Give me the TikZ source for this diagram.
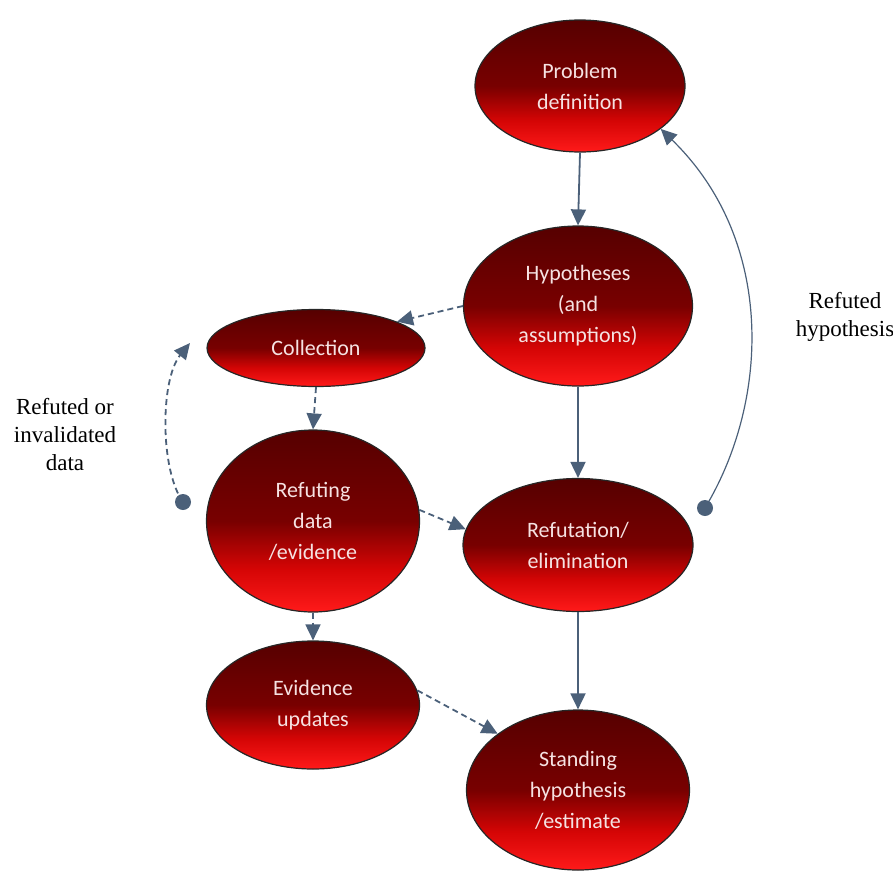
\documentclass[tikz,border=0pt]{standalone}
\usepackage{fontspec}
\setmainfont{Carlito}
\newfontfamily\serifx{Liberation Serif}
\usepackage{xcolor}
\usepackage{tikz}
\usetikzlibrary{arrows.meta,shapes.geometric}
\definecolor{ovtop}{HTML}{560000}
\definecolor{ovmid}{HTML}{780000}
\definecolor{ovlow}{HTML}{D40505}
\definecolor{ovbot}{HTML}{FF1A1A}
\definecolor{txtx}{HTML}{F6E2E2}
\definecolor{slatex}{HTML}{4B6079}
\pgfdeclareverticalshading{ovshade}{100bp}{color(0bp)=(ovbot); color(25bp)=(ovbot); color(37bp)=(ovlow); color(50bp)=(ovmid); color(75bp)=(ovtop); color(100bp)=(ovtop)}
\tikzset{
  ov/.style={ellipse,draw=black!85,line width=1.2pt,shading=ovshade,inner sep=0pt,align=center,text=txtx,font=\fontsize{22}{31}\selectfont},
  ar/.style={-{Triangle[length=16pt,width=15pt]},line width=1.8pt,slatex},
  ard/.style={ar,dash pattern=on 6pt off 4pt},
  arc/.style={-{Triangle[length=16pt,width=15pt]},line width=1.2pt,slatex},
  dotx/.style={circle,fill=slatex,inner sep=0pt,minimum size=16pt},
  lab/.style={align=center,font=\serifx\fontsize{23}{28}\selectfont}
}
\begin{document}
\begin{tikzpicture}[x=1pt,y=1pt]
\useasboundingbox (0,0) rectangle (893,-875);
\node[ov,minimum width=210,minimum height=132] (pd) at (580,-86) {Problem\\definition};
\node[ov,minimum width=229,minimum height=160] (hyp) at (578,-306) {Hypotheses\\(and\\assumptions)};
\node[ov,minimum width=218,minimum height=77] (coll) at (316,-348) {Collection};
\node[ov,minimum width=213,minimum height=182] (rdata) at (313,-521) {Refuting\\data\\/evidence};
\node[ov,minimum width=230,minimum height=133] (refel) at (578,-545) {Refutation/\\elimination};
\node[ov,minimum width=213,minimum height=128] (evup) at (313,-705) {Evidence\\updates};
\node[ov,minimum width=223,minimum height=160] (stand) at (578,-790) {Standing\\hypothesis\\/estimate};
\node[lab] (lhyp) at (845,-317) {Refuted\\hypothesis};
\node[lab] (ldata) at (65,-435) {Refuted or\\invalidated\\data};
\node[dotx] (hdot) at (705,-508) {};
\node[dotx] (ddot) at (183,-502) {};
\draw[ar] (pd.south) -- (hyp.north);
\draw[ar] (hyp.south) -- (refel.north);
\draw[ar] (refel.south) -- (stand.north);
\draw[ard] (hyp.west) -- (coll.18);
\draw[ard] (coll.south) -- (rdata.north);
\draw[ard] (rdata.6) -- (refel.172);
\draw[ard] (rdata.south) -- (evup.north);
\draw[ard] (evup.8) -- (stand.145);
\draw[arc] (hdot.center) .. controls (770,-400) and (775,-240) .. (pd.-28);
\draw[arc,line width=1.8pt,dash pattern=on 6pt off 4pt] (ddot.center) .. controls (160,-470) and (160,-380) .. (190,-343);
\end{tikzpicture}
\end{document}
